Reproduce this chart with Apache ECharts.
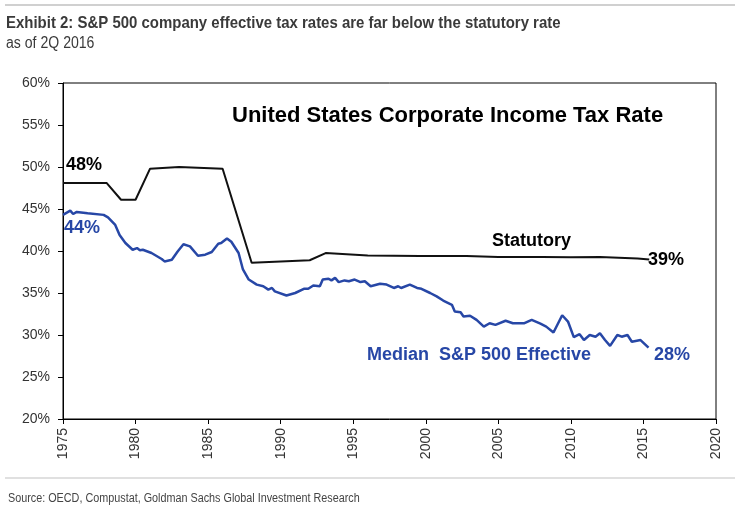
<!DOCTYPE html>
<html>
<head>
<meta charset="utf-8">
<script src="https://cdn.jsdelivr.net/npm/echarts@6/dist/echarts.min.js"></script>
<style>
html,body{margin:0;padding:0;background:#fff;}
#chart{width:744px;height:512px;}
</style>
</head>
<body>
<div id="chart"></div>
<script>
// ---- Data ----
var statYears  = [1975, 1978, 1979, 1980, 1981, 1983, 1986, 1988, 1992, 1993.1, 1996, 1999.6, 2002.8, 2005, 2008, 2010, 2012, 2014.6, 2015.4];
var statValues = [48.1, 48.1, 46.1, 46.1, 49.8, 50.0, 49.8, 38.6, 38.9, 39.75, 39.45, 39.4, 39.4, 39.3, 39.3, 39.25, 39.3, 39.1, 39.0];

var effYears  = [1975.0, 1975.5, 1975.7, 1975.95, 1976.7, 1977.8, 1978.1, 1978.6, 1978.9, 1979.3, 1979.8, 1980.1, 1980.3, 1980.5, 1981.1, 1981.8, 1982.0, 1982.5, 1982.9, 1983.3, 1983.75, 1984.3, 1984.8, 1985.25, 1985.7, 1985.9, 1986.3, 1986.6,
                 1987.1, 1987.4, 1987.8, 1988.35, 1988.8, 1989.15, 1989.4, 1989.6, 1990.4, 1991.0, 1991.6, 1991.9, 1992.25, 1992.7, 1992.9, 1993.3, 1993.5, 1993.75, 1994.0, 1994.4, 1994.7, 1995.1, 1995.5, 1995.8, 1996.2, 1996.85, 1997.3, 1997.8, 1998.1, 1998.3, 1998.9, 1999.4, 1999.7,
                 2000.3, 2000.75, 2001.2, 2001.8, 2002.0, 2002.4, 2002.6, 2003.05, 2003.5, 2004.0, 2004.4, 2004.8, 2005.5, 2006.0, 2006.8, 2007.3, 2007.9, 2008.3, 2008.8, 2009.4, 2009.8, 2010.2, 2010.6, 2010.9, 2011.3, 2011.7, 2012.0, 2012.35, 2012.7, 2013.2, 2013.5, 2013.9, 2014.2, 2014.8, 2015.35];
var effValues = [44.3, 44.8, 44.4, 44.65, 44.5, 44.3, 44.0, 43.1, 41.9, 40.95, 40.15, 40.35, 40.1, 40.15, 39.76, 39.05, 38.76, 38.96, 39.95, 40.8, 40.55, 39.44, 39.56, 39.88, 40.87, 40.95, 41.5, 41.1,
                 39.76, 37.8, 36.6, 36.0, 35.8, 35.4, 35.6, 35.2, 34.7, 35.0, 35.5, 35.5, 35.9, 35.8, 36.6, 36.7, 36.5, 36.8, 36.3, 36.5, 36.4, 36.6, 36.3, 36.4, 35.8, 36.1, 36.0, 35.6, 35.8, 35.6, 36.0, 35.6, 35.5,
                 35.0, 34.6, 34.1, 33.6, 32.8, 32.7, 32.2, 32.3, 31.8, 31.0, 31.4, 31.2, 31.7, 31.4, 31.4, 31.8, 31.35, 31.0, 30.3, 32.35, 31.6, 29.75, 30.1, 29.4, 30.0, 29.8, 30.2, 29.4, 28.7, 30.0, 29.8, 30.0, 29.2, 29.4, 28.5];

var yTicks = [20, 60, 5];   // min, max, step (percent)
var xTicks = [1975, 2020, 5]; // min, max, step (year)

function pairs(xs, ys){ return xs.map(function(x,i){ return [x, ys[i]]; }); }

var chart = echarts.init(document.getElementById('chart'));
var blue = '#2747a6';
var sans = 'Arial, "Liberation Sans", sans-serif';
chart.setOption({
  animation: false,
  backgroundColor: '#fff',
  grid: { left: 63, right: 28, top: 83, bottom: 93, show: true, borderColor: '#000', borderWidth: 1 },
  xAxis: {
    type: 'value', min: xTicks[0], max: xTicks[1], interval: xTicks[2],
    axisLine: { lineStyle: { color: '#000', width: 1 } },
    axisTick: { show: true, length: 5, lineStyle: { color: '#000' } },
    axisLabel: { rotate: 90, color: '#333', fontFamily: sans, fontSize: 14, margin: 9,
                 formatter: function(v){ return String(v); } },
    splitLine: { show: false }
  },
  yAxis: {
    type: 'value', min: yTicks[0], max: yTicks[1], interval: yTicks[2],
    axisLine: { show: true, lineStyle: { color: '#000', width: 1 } },
    axisTick: { show: true, length: 5, lineStyle: { color: '#000' } },
    axisLabel: { formatter: '{value}%', color: '#333', fontFamily: sans, fontSize: 14, margin: 13 },
    splitLine: { show: false }
  },
  series: [
    { name: 'Statutory', type: 'line', data: pairs(statYears, statValues), showSymbol: false, symbol: 'none',
      lineStyle: { color: '#111', width: 2 }, z: 3 },
    { name: 'Median S&P 500 Effective', type: 'line', data: pairs(effYears, effValues), showSymbol: false, symbol: 'none',
      lineStyle: { color: blue, width: 2.5 }, z: 4 }
  ],
  graphic: [
    { type: 'rect', shape: { x: 5, y: 4, width: 730, height: 2 }, style: { fill: '#d0d0d0' } },
    { type: 'text', x: 6, y: 15, scaleX: 0.88, style: { text: 'Exhibit 2: S&P 500 company effective tax rates are far below the statutory rate', font: 'bold 17px ' + sans, fill: '#3a3a3a' } },
    { type: 'text', x: 6, y: 36, scaleX: 0.88, style: { text: 'as of 2Q 2016', font: '16px ' + sans, fill: '#3a3a3a' } },
    { type: 'rect', shape: { x: 5, y: 477, width: 730, height: 2 }, style: { fill: '#e0e0e0' } },
    { type: 'text', x: 8, y: 493, scaleX: 0.9, style: { text: 'Source: OECD, Compustat, Goldman Sachs Global Investment Research', font: '12px ' + sans, fill: '#444' } },
    { type: 'text', x: 232, y: 105, style: { text: 'United States Corporate Income Tax Rate', font: 'bold 22px ' + sans, fill: '#000' } },
    { type: 'text', x: 66, y: 156, style: { text: '48%', font: 'bold 18px ' + sans, fill: '#000' } },
    { type: 'text', x: 64, y: 219, style: { text: '44%', font: 'bold 18px ' + sans, fill: blue } },
    { type: 'text', x: 492, y: 232, style: { text: 'Statutory', font: 'bold 18px ' + sans, fill: '#000' } },
    { type: 'text', x: 648, y: 251, style: { text: '39%', font: 'bold 18px ' + sans, fill: '#000' } },
    { type: 'text', x: 367, y: 346, style: { text: 'Median  S&P 500 Effective', font: 'bold 18px ' + sans, fill: blue } },
    { type: 'text', x: 654, y: 346, style: { text: '28%', font: 'bold 18px ' + sans, fill: blue } }
  ]
});
</script>
</body>
</html>
